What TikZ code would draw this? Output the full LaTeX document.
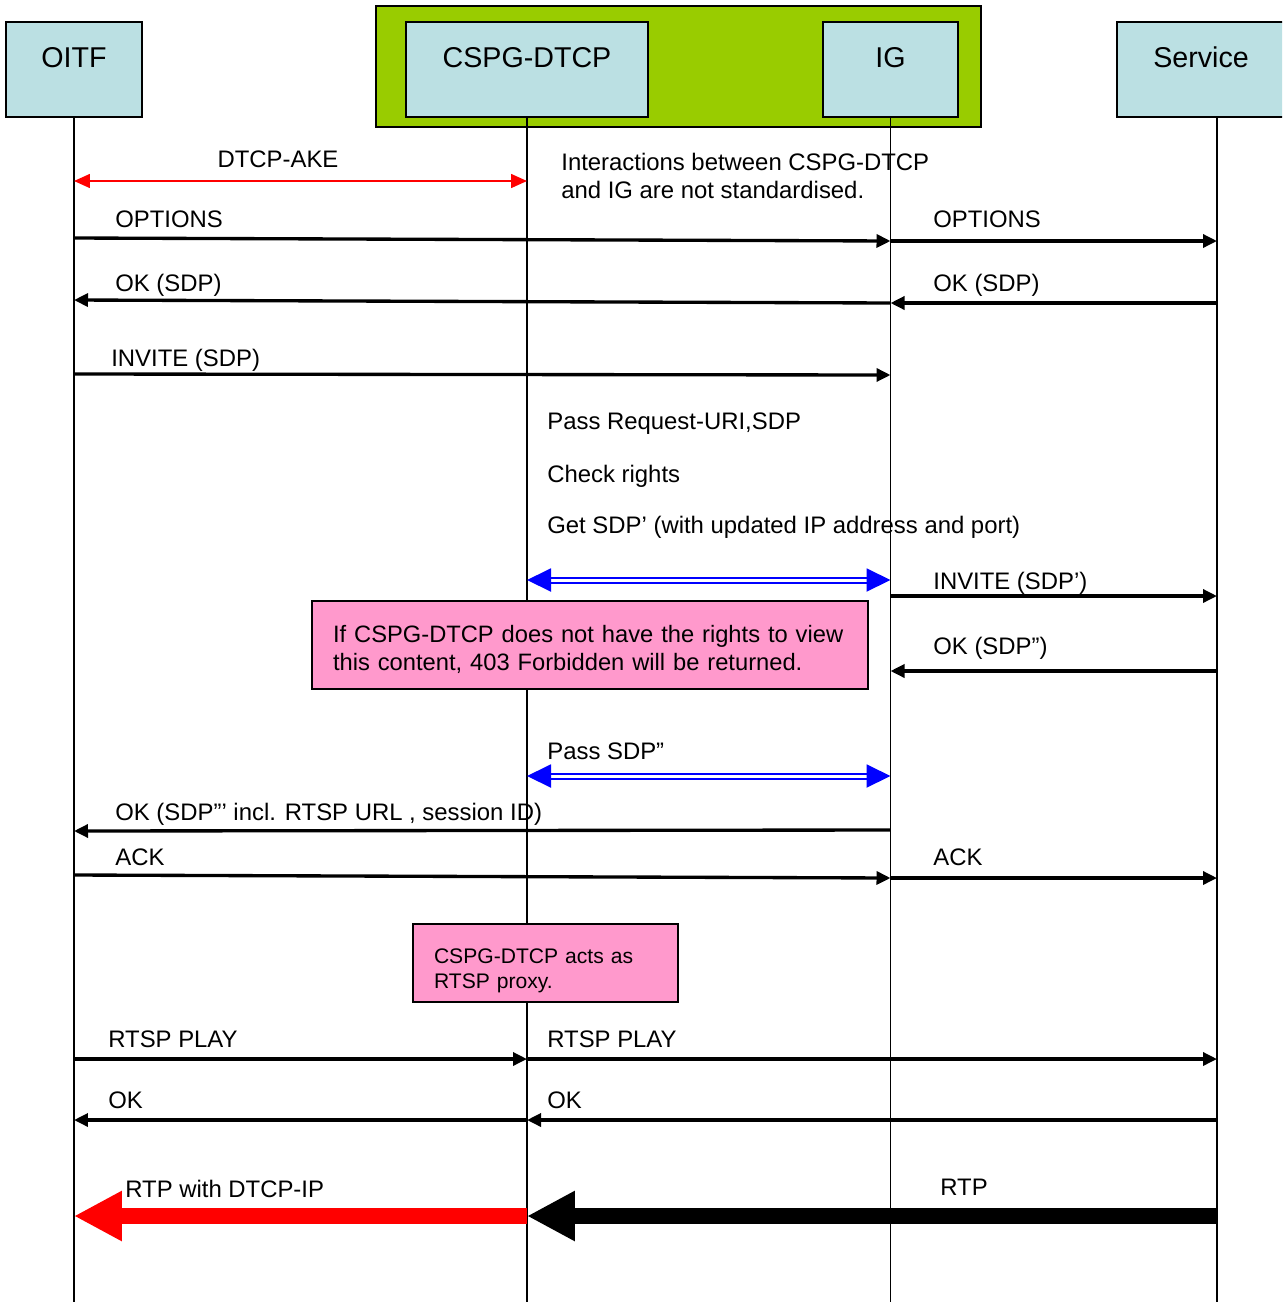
\documentclass[tikz,border=0pt]{standalone}
\usepackage{fontspec}
\setmainfont{Liberation Sans}
\usetikzlibrary{arrows.meta, positioning}

\definecolor{boxblue}{HTML}{BBE0E3}
\definecolor{grpgreen}{HTML}{99CC00}
\definecolor{notepink}{HTML}{FF99CC}

\begin{document}
\begin{tikzpicture}[
    x=0.02cm, y=-0.02cm,
    actor/.style={
        draw, line width=1.1pt, fill=boxblue, minimum width=#1, minimum height=1.9cm,
        font=\fontsize{16.3}{19}\selectfont, text height=0.41cm, text depth=0.5cm, inner sep=0
    },
    note/.style={
        draw, line width=1.1pt, fill=notepink, align=left, inner xsep=0.42cm,
        font=\fontsize{13.5}{15.9}\selectfont
    },
    lbl/.style={font=\fontsize{13.6}{15.9}\selectfont, inner sep=0, anchor=base west},
    life/.style={line width=0.9pt},
    msg/.style={-{Triangle[length=0.28cm,width=0.26cm]}, line width=1.9pt},
    ake/.style={{Triangle[length=0.32cm,width=0.28cm]}-{Triangle[length=0.32cm,width=0.28cm]},
        red, line width=0.9pt},
    pass/.style={{Triangle[length=0.48cm,width=0.46cm]}-{Triangle[length=0.48cm,width=0.46cm]},
        draw=blue, double=white, line width=0.04cm, double distance=0.06cm},
    media/.style={-{Triangle[length=0.96cm,width=0.94cm]}, line width=0.32cm, draw=#1}
]
\clip (0,0) rectangle (1282,1302);

% Group box
\node[draw, line width=1.1pt, fill=grpgreen, minimum width=12.1cm, minimum height=2.42cm] (grp) at (678.5,66.5) {};

% Actors
\node[actor=2.72cm] (oitf) at (74,69.5) {OITF};
\node[actor=4.84cm] (cspg) at (527,69.5) {CSPG-DTCP};
\node[actor=2.7cm] (ig) at (890.5,69.5) {IG};
\node[actor=3.36cm] (svc) at (1201,69.5) {Service};

% Lifelines
\coordinate (svctop) at (1217,117);
\draw[life] (oitf.south) -- (oitf |- 0,1302);
\draw[life] (cspg.south) -- (cspg |- 0,1302);
\draw[life] (ig.south) -- (ig |- 0,1302);
\draw[life] (svctop) -- (svctop |- 0,1302);

% Messages
\draw[ake] (oitf |- 0,181) -- (cspg |- 0,181);
\draw[msg] (oitf |- 0,238) -- (ig |- 0,241);
\draw[msg] (ig |- 0,241) -- (svctop |- 0,241);
\draw[msg] (ig |- 0,303) -- (oitf |- 0,300);
\draw[msg] (svctop |- 0,303) -- (ig |- 0,303);
\draw[msg] (oitf |- 0,374) -- (ig |- 0,375);
\draw[pass] (cspg |- 0,580) -- (ig |- 0,580);
\draw[msg] (ig |- 0,596) -- (svctop |- 0,596);
\draw[msg] (svctop |- 0,671) -- (ig |- 0,671);
\draw[pass] (cspg |- 0,776) -- (ig |- 0,776);
\draw[msg] (ig |- 0,830) -- (oitf |- 0,831);
\draw[msg] (oitf |- 0,875) -- (ig |- 0,878);
\draw[msg] (ig |- 0,878) -- (svctop |- 0,878);
\draw[msg] (oitf |- 0,1059) -- (cspg |- 0,1059);
\draw[msg] (cspg |- 0,1059) -- (svctop |- 0,1059);
\draw[msg] (cspg |- 0,1120) -- (oitf |- 0,1120);
\draw[msg] (svctop |- 0,1120) -- (cspg |- 0,1120);
\draw[media=red] (cspg |- 0,1216) -- (oitf |- 0,1216);
\draw[media=black] (svctop |- 0,1216) -- (cspg |- 0,1216);

% Labels
\node[lbl, anchor=base] (akelbl) at (278,167) {DTCP-AKE};
\node[lbl, anchor=west, align=left] (intnote) at (561,176) {Interactions between CSPG-DTCP\\and IG are not standardised.};
\node[lbl] (opt1) at (115,227) {OPTIONS};
\node[lbl] (opt2) at (933,227) {OPTIONS};
\node[lbl] (ok1) at (115,291) {OK (SDP)};
\node[lbl] (ok2) at (933,291) {OK (SDP)};
\node[lbl] (inv1) at (111,366) {INVITE (SDP)};
\node[lbl] (passreq) at (547,429) {Pass Request-URI,SDP};
\node[lbl] (check) at (547,482) {Check rights};
\node[lbl] (getsdp) at (547,533) {Get SDP’ (with updated IP address and port)};
\node[lbl] (inv2) at (933,589) {INVITE (SDP’)};
\node[lbl] (ok3) at (933,654) {OK (SDP”)};
\node[lbl] (passsdp) at (547,759) {Pass SDP”};
\node[lbl] (ok4) at (115,820) {OK (SDP”’ incl. RTSP URL , session ID)};
\node[lbl] (ack1) at (115,865) {ACK};
\node[lbl] (ack2) at (933,865) {ACK};
\node[lbl] (play1) at (108,1047) {RTSP PLAY};
\node[lbl] (play2) at (547,1047) {RTSP PLAY};
\node[lbl] (ok5) at (108,1108) {OK};
\node[lbl] (ok6) at (547,1108) {OK};
\node[lbl] (rtpdtcp) at (125,1197) {RTP with DTCP-IP};
\node[lbl] (rtp) at (940,1195) {RTP};

% Notes
\node[note, text width=10.28cm, minimum height=1.76cm] (deny) at (590,645)
    {\rule{0pt}{14.5pt}If CSPG-DTCP does not have the rights to view\\this content, 403 Forbidden will be returned.};
\node[note, text width=4.46cm, minimum height=1.56cm, font=\fontsize{12}{14.2}\selectfont] (proxy) at (545.5,963)
    {\rule{0pt}{16.8pt}CSPG-DTCP acts as\\RTSP proxy.};

\end{tikzpicture}
\end{document}
